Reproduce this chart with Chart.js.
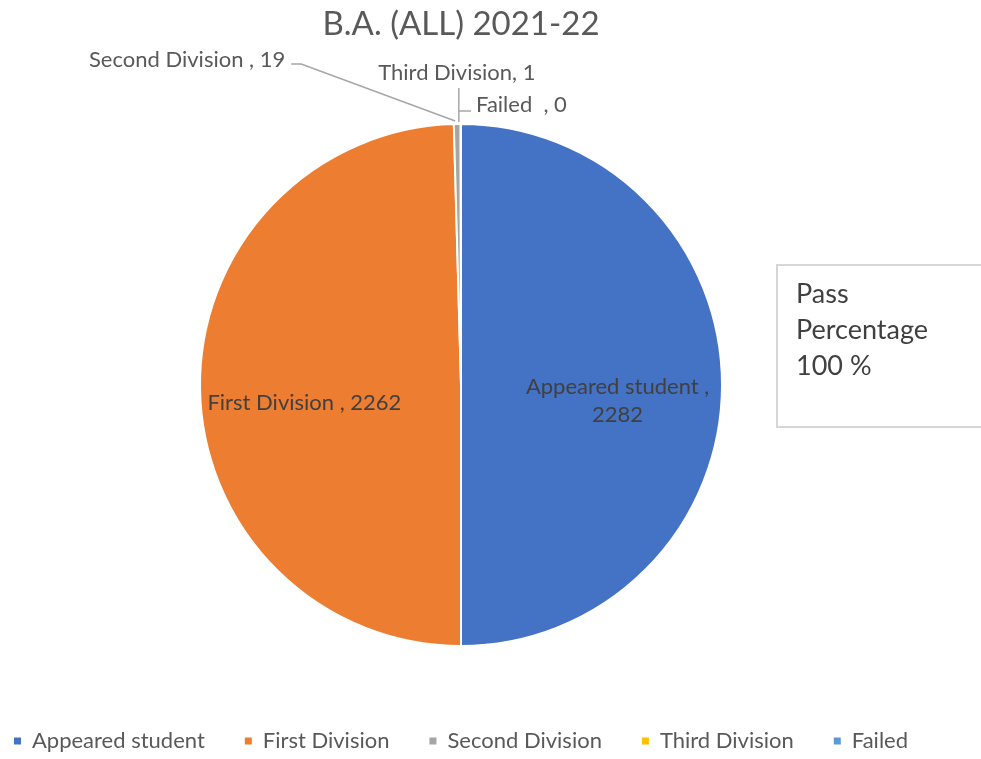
<!DOCTYPE html>
<html>
<head>
<meta charset="utf-8">
<script src="https://cdn.jsdelivr.net/npm/chart.js@4"></script>
<style>
  html, body { margin: 0; padding: 0; background: #fff; overflow: hidden; }
  #wrap { position: relative; width: 981px; height: 759px; }
  #note {
    position: absolute; left: 776px; top: 264px; width: 230px; height: 164px;
    border: 2px solid #d6d6d6; box-sizing: border-box;
    font-family: Lato, "Open Sans", sans-serif; font-size: 27px; line-height: 36px;
    color: #404040; padding: 9px 0 0 18px;
  }
</style>
</head>
<body>
<div id="wrap">
  <canvas id="c" width="981" height="759"></canvas>
  <div id="note">Pass<br>Percentage<br>100 %</div>
</div>
<script>
const titleText = "B.A. (ALL) 2021-22";
const categories = ["Appeared student", "First Division", "Second Division", "Third Division", "Failed"];
const values = [2282, 2262, 19, 1, 0];
const colors = ["#4472C4", "#ED7D31", "#A5A5A5", "#FFC000", "#5B9BD5"];
const labelTexts = [["Appeared student ,", "2282"], ["First Division , 2262"], ["Second Division , 19"], ["Third Division, 1"], ["Failed  , 0"]];

const FONT = "Lato, 'Open Sans', sans-serif";

// shift the plot area so the pie shares the title/legend centre line
const areaShift = {
  id: "areaShift",
  afterLayout(chart) {
    const ca = chart.chartArea;
    const mid = (ca.left + ca.right) / 2;
    const target = 461;
    const d = target - mid;
    ca.left += d;
    ca.right += d;
  }
};

const labelPlugin = {
  id: "sliceLabels",
  afterDatasetsDraw(chart) {
    const ctx = chart.ctx;
    const arcs = chart.getDatasetMeta(0).data;
    ctx.save();
    ctx.font = "22px " + FONT;
    ctx.textBaseline = "middle";
    // inside labels
    [0, 1].forEach(i => {
      const a = arcs[i];
      const mid = (a.startAngle + a.endAngle) / 2;
      const r = a.outerRadius * 0.6;
      const x = a.x + Math.cos(mid) * r;
      const y = a.y + Math.sin(mid) * r + 16;
      ctx.fillStyle = "#404040";
      ctx.textAlign = "center";
      const lines = labelTexts[i];
      const lh = 28;
      lines.forEach((t, k) => {
        ctx.fillText(t, x, y + (k - (lines.length - 1) / 2) * lh);
      });
    });
    // outside labels with leader lines
    const edge = i => {
      const a = arcs[i];
      const mid = (a.startAngle + a.endAngle) / 2;
      return { x: a.x + Math.cos(mid) * a.outerRadius, y: a.y + Math.sin(mid) * a.outerRadius };
    };
    ctx.strokeStyle = "#A6A6A6";
    ctx.lineWidth = 1.5;
    ctx.fillStyle = "#595959";
    // Second Division
    let p = edge(2);
    ctx.beginPath();
    ctx.moveTo(p.x - 2, p.y - 3);
    ctx.lineTo(p.x - 156, p.y - 60);
    ctx.lineTo(p.x - 166, p.y - 60);
    ctx.stroke();
    ctx.textAlign = "right";
    ctx.fillText(labelTexts[2][0], p.x - 172, p.y - 64);
    // Third Division
    p = edge(3);
    ctx.beginPath();
    ctx.moveTo(p.x - 2, p.y - 2);
    ctx.lineTo(p.x - 2, p.y - 36);
    ctx.stroke();
    ctx.textAlign = "center";
    ctx.fillText(labelTexts[3][0], p.x - 4, p.y - 51);
    // Failed
    p = edge(4);
    ctx.beginPath();
    ctx.moveTo(p.x - 2, p.y - 13);
    ctx.lineTo(p.x + 10, p.y - 13);
    ctx.stroke();
    ctx.textAlign = "left";
    ctx.fillText(labelTexts[4][0], p.x + 15, p.y - 19);
    ctx.restore();
  }
};

new Chart(document.getElementById("c"), {
  type: "pie",
  data: {
    labels: categories,
    datasets: [{
      data: values,
      backgroundColor: colors,
      borderColor: "#ffffff",
      borderWidth: 2,
      radius: 261
    }]
  },
  options: {
    responsive: false,
    animation: false,
    layout: { padding: { left: -59, right: 0, top: 0, bottom: -3 } },
    plugins: {
      title: {
        display: true,
        text: titleText,
        color: "#595959",
        font: { family: FONT, size: 33, weight: "normal" },
        padding: { top: 5, bottom: 35.4 }
      },
      legend: {
        position: "bottom",
        labels: {
          color: "#595959",
          font: { family: FONT, size: 22 },
          boxWidth: 7,
          boxHeight: 7,
          padding: 40,
          generateLabels(chart) {
            const items = Chart.overrides.pie.plugins.legend.labels.generateLabels(chart);
            items.forEach(it => { it.lineWidth = 0; it.strokeStyle = "transparent"; });
            return items;
          }
        }
      },
      tooltip: { enabled: false }
    }
  },
  plugins: [areaShift, labelPlugin]
});
</script>
</body>
</html>
